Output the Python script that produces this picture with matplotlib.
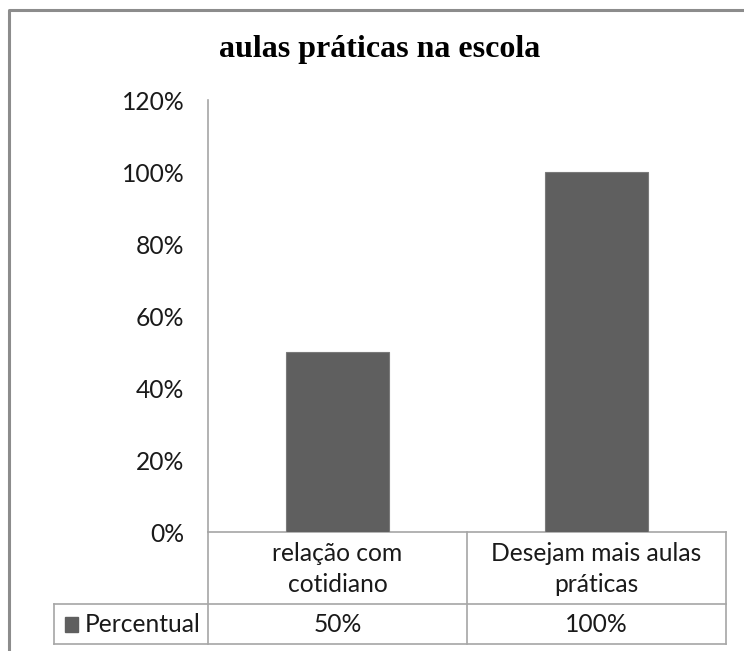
import matplotlib
matplotlib.use("Agg")
import matplotlib.pyplot as plt
from matplotlib.lines import Line2D
from matplotlib.patches import Rectangle
from matplotlib.ticker import FuncFormatter

title = "aulas práticas na escola"
categories = ["relação com\ncotidiano", "Desejam mais aulas\npráticas"]
series_name = "Percentual"
values = [0.50, 1.00]
value_labels = ["50%", "100%"]
yticks = [0.0, 0.2, 0.4, 0.6, 0.8, 1.0, 1.2]

W, H = 744, 651
fig = plt.figure(figsize=(W / 100, H / 100), dpi=100)

def fx(px):
    return px / W

def fy(py):
    return 1 - py / H

bar_color = "#5f5f5f"
line_color = "#a6a6a6"
text_color = "#1a1a1a"
font = "Lato"
fs = 17.7

# axes
ax_l, ax_r, ax_t, ax_b = 208, 726, 100, 532
ax = fig.add_axes([fx(ax_l), fy(ax_b), fx(ax_r - ax_l), fy(ax_t) - fy(ax_b)])
x = list(range(len(categories)))
ax.bar(x, values, width=0.4, color=bar_color, edgecolor="#7a7a7a", linewidth=0.8, zorder=3)
ax.set_xlim(-0.5, len(categories) - 0.5)
ax.set_ylim(0, 1.2)
ax.set_yticks(yticks)
ax.yaxis.set_major_formatter(FuncFormatter(lambda v, p: f"{v*100:.0f}%"))
ax.tick_params(axis="y", length=0, pad=17, labelsize=fs, labelcolor=text_color)
for lab in ax.get_yticklabels():
    lab.set_fontfamily(font)
ax.set_xticks([])
for s in ["top", "right"]:
    ax.spines[s].set_visible(False)
ax.spines["left"].set_color(line_color)
ax.spines["bottom"].set_color(line_color)
ax.spines["left"].set_linewidth(1.2)
ax.spines["bottom"].set_linewidth(1.2)

# data table lines (figure pixel coords)
row1_b = 604
row2_b = 644
tab_left = 54
col_edges = [ax_l, 467, ax_r]
segs = [
    ((tab_left, row1_b), (ax_r, row1_b)),
    ((tab_left, row2_b), (ax_r, row2_b)),
    ((tab_left, row1_b), (tab_left, row2_b)),
]
for ce in col_edges:
    segs.append(((ce, ax_b), (ce, row2_b)))
for (x0, y0), (x1, y1) in segs:
    fig.add_artist(Line2D([fx(x0), fx(x1)], [fy(y0), fy(y1)], color=line_color, lw=1.2))

# category labels and values
for i, (cat, vl) in enumerate(zip(categories, value_labels)):
    cx = (col_edges[i] + col_edges[i + 1]) / 2
    fig.text(fx(cx), fy((ax_b + row1_b) / 2 + 1), cat, ha="center", va="center",
             fontsize=fs, family=font, color=text_color, linespacing=1.45)
    fig.text(fx(cx), fy((row1_b + row2_b) / 2 + 1), vl, ha="center", va="center",
             fontsize=fs, family=font, color=text_color)

# legend key and row label
fig.add_artist(Rectangle((fx(65), fy(632)), fx(13), fy(617) - fy(632), color=bar_color,
                         transform=fig.transFigure))
fig.text(fx(85), fy(625), series_name, ha="left", va="center", fontsize=fs,
         family=font, color=text_color)

# title
fig.text(fx(380), fy(49), title, ha="center", va="center", fontsize=23,
         family="Liberation Serif", fontweight="bold", color="#000000")

# outer chart border (left and top visible)
fig.add_artist(Line2D([fx(9), fx(9), fx(W + 5)], [fy(H + 5), fy(10), fy(10)],
                      color="#8c8c8c", lw=2.2))

fig.savefig("out.png", dpi=100)
